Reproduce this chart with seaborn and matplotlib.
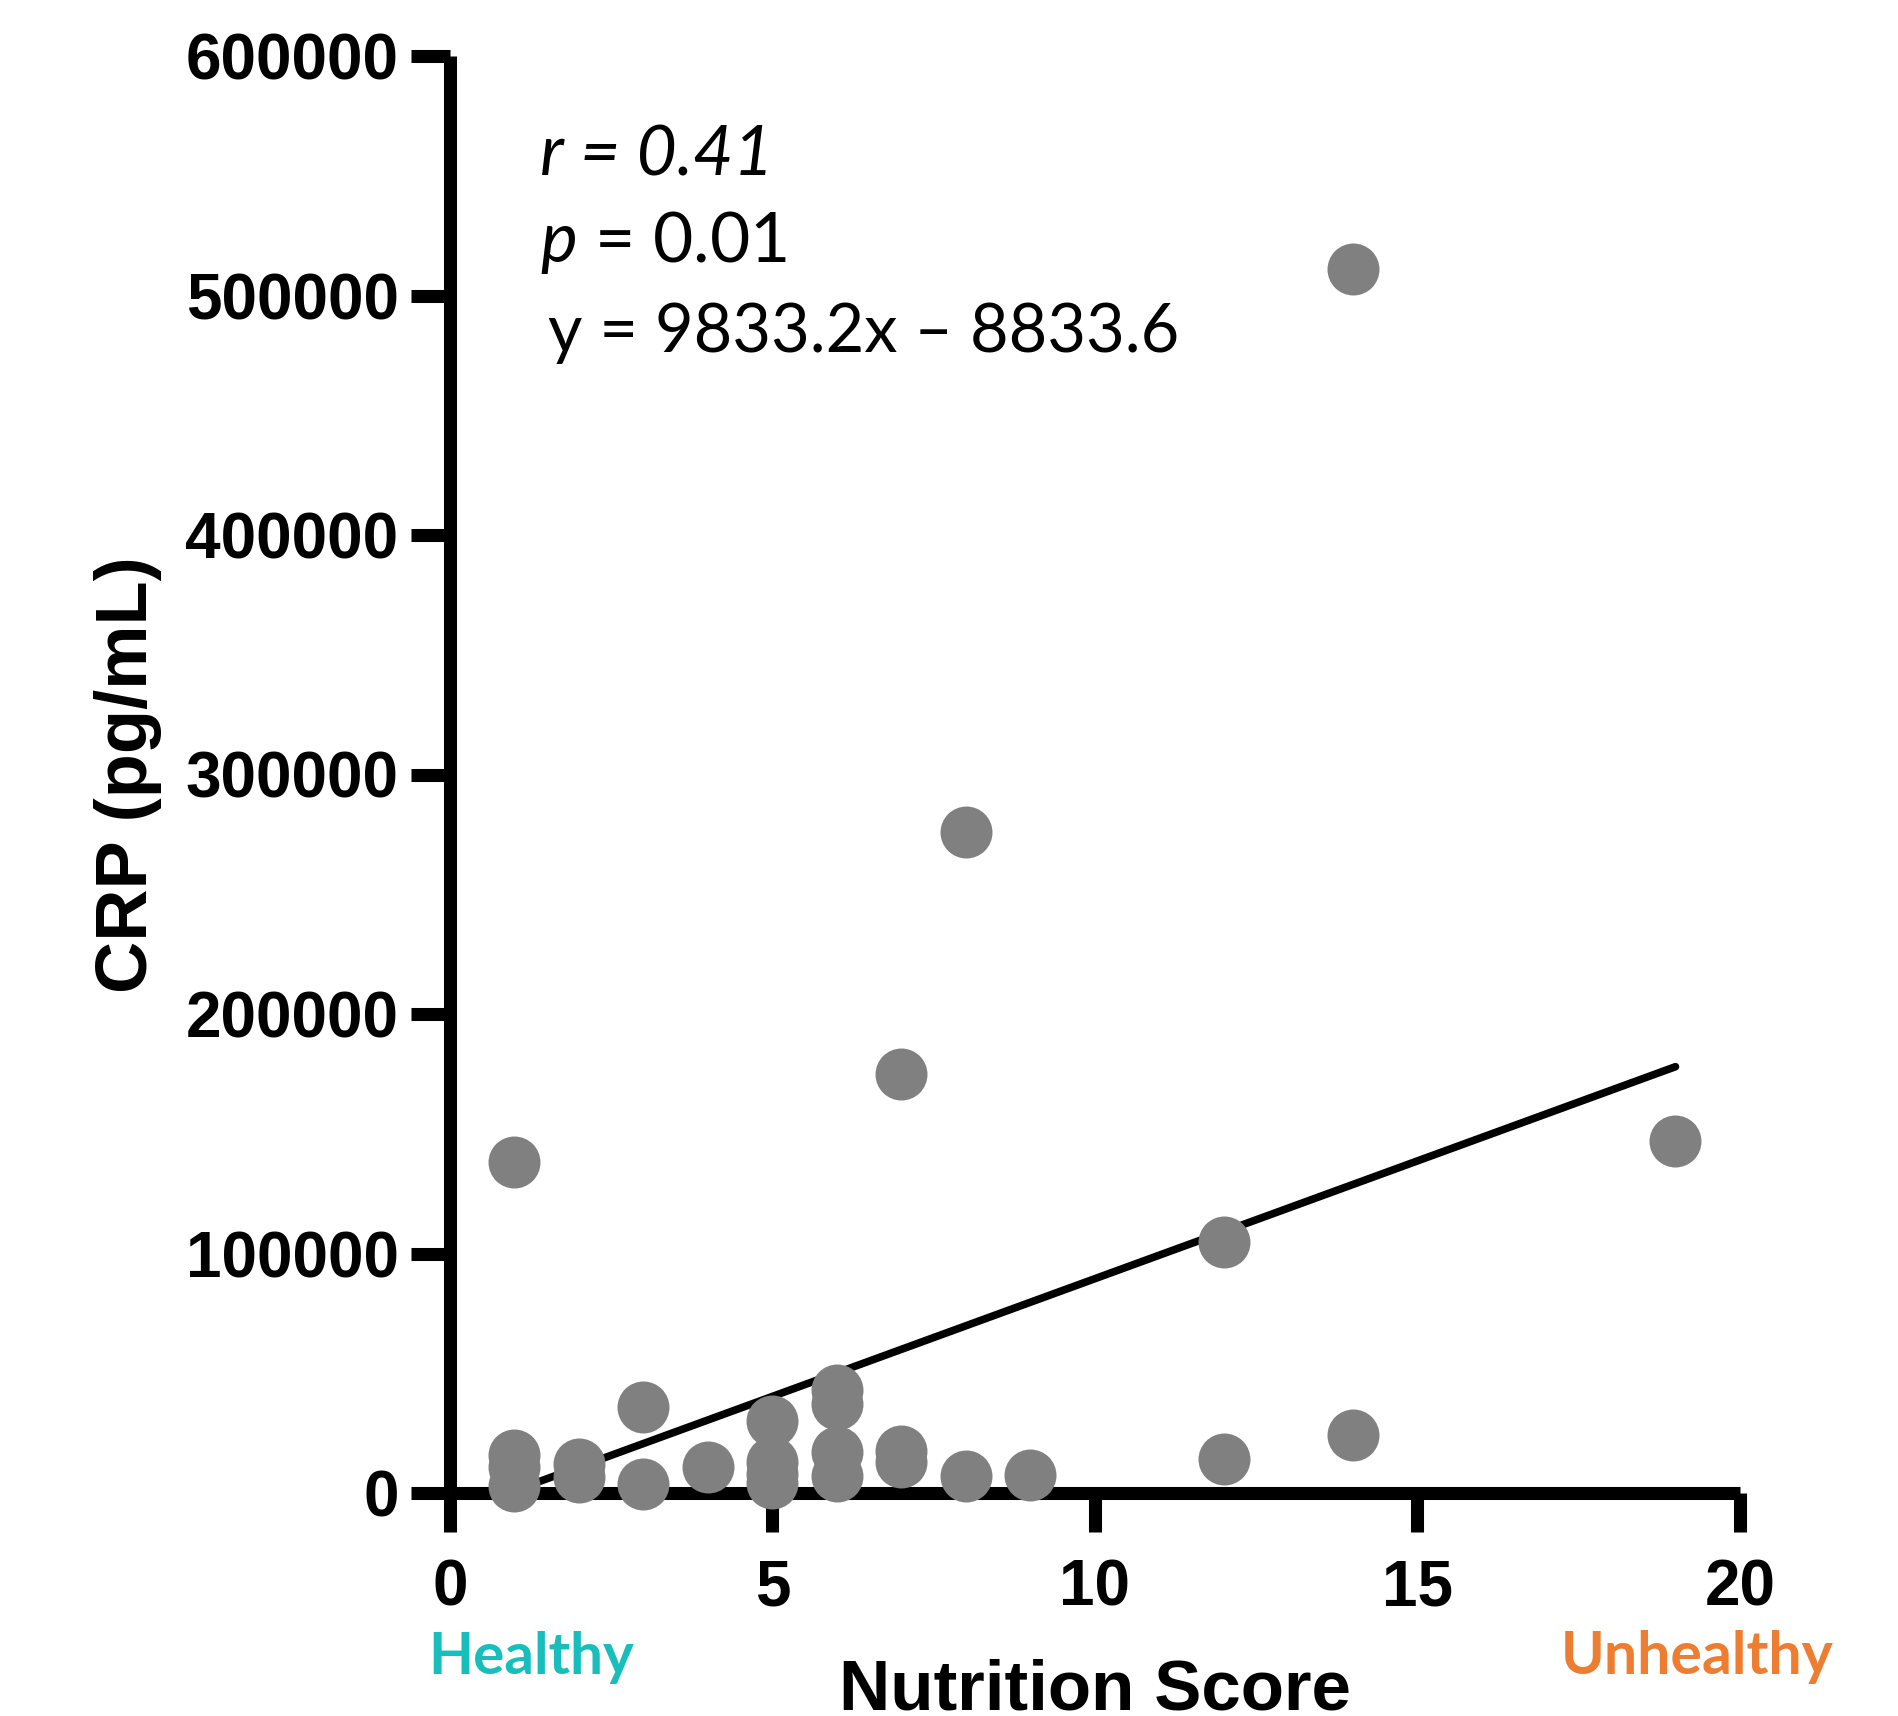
import numpy as np
import pandas as pd
import matplotlib
matplotlib.use('Agg')
import matplotlib.pyplot as plt
import seaborn as sns

# Data
nutrition_score = [1, 1, 1, 1, 2, 2, 3, 3, 4, 5, 5, 5, 5,
                   6, 6, 6, 6, 7, 7, 7, 8, 8, 9, 12, 12, 14, 14, 19]
crp = [138000, 16000, 11000, 3000, 12000, 6500, 36000, 3600, 11000,
       30000, 13000, 8000, 4000, 43000, 37000, 17000, 7000,
       175000, 17500, 13000, 276000, 7000, 7700, 105000, 14000,
       511000, 24400, 147000]

# Linear fit as printed on the chart
slope = 9833.2
intercept = -8833.6

x_ticks = [0, 5, 10, 15, 20]
y_ticks = [0, 100000, 200000, 300000, 400000, 500000, 600000]

df = pd.DataFrame({'score': nutrition_score, 'crp': crp})
line_x = np.array([min(nutrition_score), max(nutrition_score)])
line_df = pd.DataFrame({'score': line_x, 'crp': slope * line_x + intercept})

sns.set_style('ticks', {'axes.edgecolor': 'black', 'xtick.color': 'black',
                        'ytick.color': 'black', 'text.color': 'black',
                        'axes.labelcolor': 'black'})
plt.rcParams['font.family'] = ['Liberation Sans', 'DejaVu Sans']
plt.rcParams['mathtext.fontset'] = 'custom'
plt.rcParams['mathtext.rm'] = 'Lato'
plt.rcParams['mathtext.it'] = 'Lato:italic'

W, H = 1899, 1716
fig = plt.figure(figsize=(W / 100, H / 100), dpi=100)
ax = fig.add_axes([450 / W, 1 - 1493 / H, 1290 / W, 1437 / H])

sns.lineplot(data=line_df, x='score', y='crp', color='black', lw=5.5, ax=ax, zorder=3)
sns.scatterplot(data=df, x='score', y='crp', s=1400, color='#808080',
                linewidth=0, ax=ax, zorder=5, clip_on=False)

ax.set_xlim(0, 20)
ax.set_ylim(0, 600000)
ax.set_xticks(x_ticks)
ax.set_yticks(y_ticks)
ax.set_xticklabels([str(t) for t in x_ticks])
ax.set_yticklabels([str(t) for t in y_ticks])

for side in ['top', 'right']:
    ax.spines[side].set_visible(False)
for side in ['left', 'bottom']:
    ax.spines[side].set_linewidth(9.4)
    ax.spines[side].set_capstyle('butt')

ax.tick_params(axis='both', length=28, width=9.4, labelsize=46, direction='out',
               colors='black')
ax.tick_params(axis='x', pad=19)
ax.tick_params(axis='y', pad=9)
for lab in ax.get_xticklabels() + ax.get_yticklabels():
    lab.set_fontweight('bold')

ax.set_xlabel('Nutrition Score', fontsize=51, fontweight='bold', va='baseline')
ax.xaxis.set_label_coords(0.5, (1493 - 1709) / 1437)
ax.set_ylabel('CRP (pg/mL)', fontsize=52, fontweight='bold', va='center')
ax.yaxis.set_label_coords((128 - 450) / 1290, 0.5)

# Healthy / Unhealthy labels under the axis
fig.text(531 / W, 1 - 1674 / H, 'Healthy', color='#17BEBB', fontsize=42,
         fontweight='bold', family=['Lato', 'DejaVu Sans'], ha='center', va='baseline')
fig.text(1697 / W, 1 - 1674 / H, 'Unhealthy', color='#ED7D31', fontsize=42.5,
         fontweight='bold', family=['Lato', 'DejaVu Sans'], ha='center', va='baseline')

# Statistics annotation
fig.text(540 / W, 1 - 176 / H, 'r = 0.41', fontsize=50, style='italic',
         family=['Lato', 'DejaVu Sans'], va='baseline')
fig.text(540 / W, 1 - 262 / H, '$p$ = 0.01', fontsize=50,
         family=['Lato', 'DejaVu Sans'], va='baseline')
fig.text(548 / W, 1 - 352 / H, 'y = 9833.2x \u2013 8833.6', fontsize=48,
         family=['Lato', 'DejaVu Sans'], va='baseline')

fig.savefig('out.png', dpi=100)
